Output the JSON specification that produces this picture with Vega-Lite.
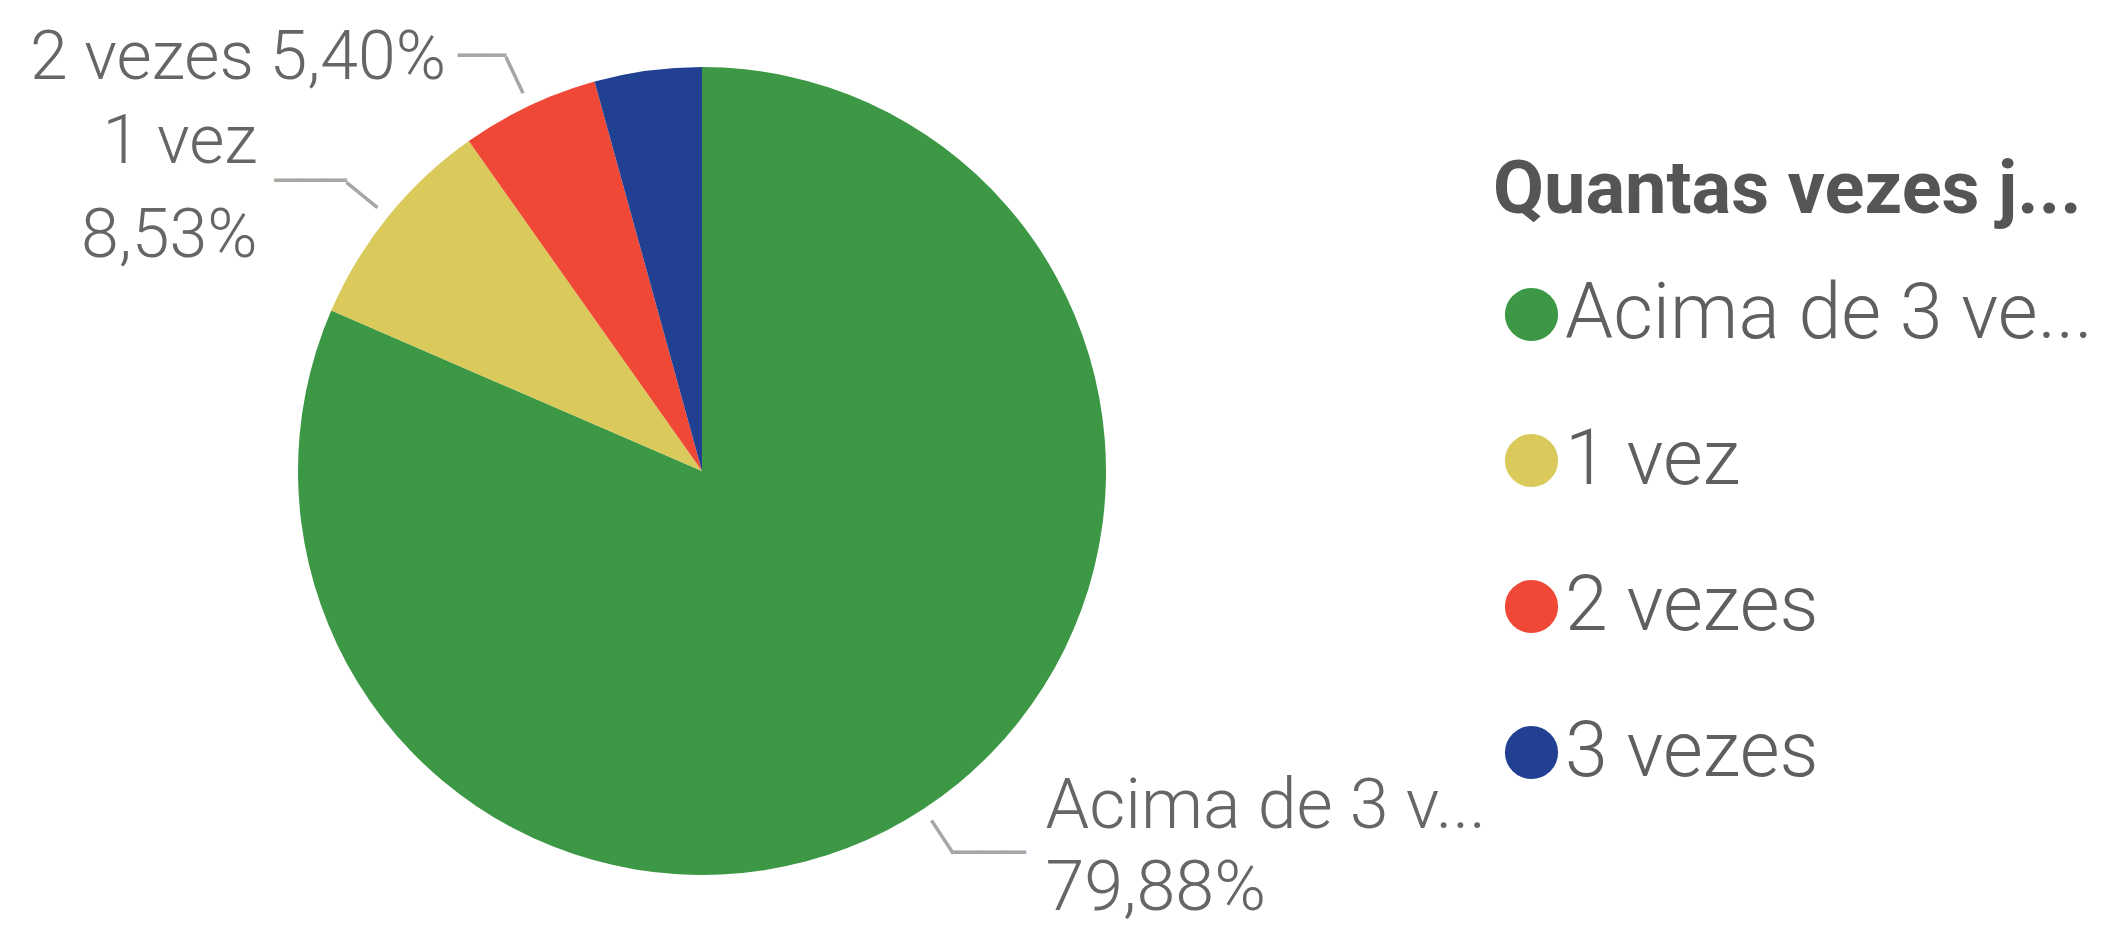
{
  "$schema": "https://vega.github.io/schema/vega-lite/v6.json",
  "width": 1404,
  "height": 918,
  "autosize": {"type": "none"},
  "padding": {"left": 0, "top": 12, "right": 720, "bottom": 0},
  "background": "white",
  "config": {
    "view": {"stroke": null},
    "locale": {"number": {"decimal": ",", "thousands": ".", "grouping": [3], "currency": ["R$", ""]}}
  },
  "data": {
    "values": [
      {"categoria": "Acima de 3 vezes", "valor": 0.7988},
      {"categoria": "1 vez", "valor": 0.0853},
      {"categoria": "2 vezes", "valor": 0.0540},
      {"categoria": "3 vezes", "valor": 0.0420}
    ]
  },
  "transform": [
    {"stack": "valor", "groupby": [], "sort": [{"field": "valor", "order": "descending"}], "offset": "normalize", "as": ["a0", "a1"]},
    {"fold": ["a0", "a1"], "as": ["borda", "angulo"]},
    {"joinaggregate": [{"op": "mean", "field": "angulo", "as": "meio"}], "groupby": ["categoria"]},
    {"filter": "datum.borda == 'a0'"}
  ],
  "layer": [
    {
      "mark": {"type": "arc", "radius": 404},
      "encoding": {
        "theta": {"field": "a0", "type": "quantitative", "scale": {"domain": [0, 1]}},
        "theta2": {"field": "a1"},
        "color": {
          "field": "categoria",
          "type": "nominal",
          "scale": {
            "domain": ["Acima de 3 vezes", "1 vez", "2 vezes", "3 vezes"],
            "range": ["#3c9845", "#d9ca5b", "#ef4836", "#214091"]
          },
          "legend": {
            "orient": "none",
            "legendX": 1493,
            "legendY": 143,
            "padding": 0,
            "title": "Quantas vezes j...",
            "titleFont": "Roboto",
            "titleFontWeight": "bold",
            "titleFontSize": 74,
            "titleColor": "#555555",
            "titleLimit": 2000,
            "titlePadding": 47,
            "labelFont": "Roboto",
            "labelFontWeight": 300,
            "labelFontSize": 77,
            "labelColor": "#5f5f5f",
            "labelLimit": 2000,
            "labelOffset": -5,
            "labelExpr": "datum.label == 'Acima de 3 vezes' ? 'Acima de 3 ve...' : datum.label",
            "symbolType": "circle",
            "symbolSize": 2827,
            "symbolStrokeWidth": 0,
            "symbolOpacity": 1,
            "rowPadding": 68
          }
        }
      }
    },
    {
      "transform": [{"filter": "datum.categoria != '3 vezes'"}],
      "mark": {"type": "arc", "radius": 458, "radius2": 418, "filled": false, "stroke": "#a6a6a6", "strokeWidth": 3.5},
      "encoding": {
        "theta": {"field": "meio", "type": "quantitative", "scale": {"domain": [0, 1]}},
        "theta2": {"field": "meio"}
      }
    },
    {
      "transform": [{"filter": "datum.categoria == 'Acima de 3 vezes'"}],
      "mark": {"type": "text", "radius": 458, "align": "left", "baseline": "middle", "font": "DejaVu Sans Mono", "fontSize": 40, "color": "#a6a6a6", "text": "───"},
      "encoding": {"theta": {"field": "meio", "type": "quantitative", "scale": {"domain": [0, 1]}}}
    },
    {
      "transform": [{"filter": "datum.categoria == '1 vez'"}],
      "mark": {"type": "text", "radius": 458, "align": "right", "baseline": "middle", "font": "DejaVu Sans Mono", "fontSize": 40, "color": "#a6a6a6", "text": "───"},
      "encoding": {"theta": {"field": "meio", "type": "quantitative", "scale": {"domain": [0, 1]}}}
    },
    {
      "transform": [{"filter": "datum.categoria == '2 vezes'"}],
      "mark": {"type": "text", "radius": 458, "align": "right", "baseline": "middle", "font": "DejaVu Sans Mono", "fontSize": 40, "color": "#a6a6a6", "text": "──"},
      "encoding": {"theta": {"field": "meio", "type": "quantitative", "scale": {"domain": [0, 1]}}}
    },
    {
      "transform": [{"filter": "datum.categoria == 'Acima de 3 vezes'"}],
      "mark": {"type": "text", "radius": 458, "align": "left", "baseline": "alphabetic", "dx": 92, "dy": -26, "font": "Roboto", "fontWeight": 300, "fontSize": 70, "color": "#666666", "limit": 472, "ellipsis": "..."},
      "encoding": {
        "theta": {"field": "meio", "type": "quantitative", "scale": {"domain": [0, 1]}},
        "text": {"field": "categoria", "type": "nominal"}
      }
    },
    {
      "transform": [{"filter": "datum.categoria == 'Acima de 3 vezes'"}],
      "mark": {"type": "text", "radius": 458, "align": "left", "baseline": "alphabetic", "dx": 92, "dy": 56, "font": "Roboto", "fontWeight": 300, "fontSize": 70, "color": "#666666"},
      "encoding": {
        "theta": {"field": "meio", "type": "quantitative", "scale": {"domain": [0, 1]}},
        "text": {"field": "valor", "type": "quantitative", "format": ".2%"}
      }
    },
    {
      "transform": [{"filter": "datum.categoria == '1 vez'"}],
      "mark": {"type": "text", "radius": 458, "align": "right", "baseline": "alphabetic", "dx": -89, "dy": -19, "font": "Roboto", "fontWeight": 300, "fontSize": 68, "color": "#666666"},
      "encoding": {
        "theta": {"field": "meio", "type": "quantitative", "scale": {"domain": [0, 1]}},
        "text": {"field": "categoria", "type": "nominal"}
      }
    },
    {
      "transform": [{"filter": "datum.categoria == '1 vez'"}],
      "mark": {"type": "text", "radius": 458, "align": "right", "baseline": "alphabetic", "dx": -89, "dy": 75, "font": "Roboto", "fontWeight": 300, "fontSize": 68, "color": "#666666"},
      "encoding": {
        "theta": {"field": "meio", "type": "quantitative", "scale": {"domain": [0, 1]}},
        "text": {"field": "valor", "type": "quantitative", "format": ".2%"}
      }
    },
    {
      "transform": [{"filter": "datum.categoria == '2 vezes'"}],
      "mark": {"type": "text", "radius": 458, "align": "right", "baseline": "alphabetic", "dx": -252, "dy": 22, "font": "Roboto", "fontWeight": 300, "fontSize": 68, "color": "#666666"},
      "encoding": {
        "theta": {"field": "meio", "type": "quantitative", "scale": {"domain": [0, 1]}},
        "text": {"field": "categoria", "type": "nominal"}
      }
    },
    {
      "transform": [{"filter": "datum.categoria == '2 vezes'"}],
      "mark": {"type": "text", "radius": 458, "align": "right", "baseline": "alphabetic", "dx": -60, "dy": 22, "font": "Roboto", "fontWeight": 300, "fontSize": 68, "color": "#666666"},
      "encoding": {
        "theta": {"field": "meio", "type": "quantitative", "scale": {"domain": [0, 1]}},
        "text": {"field": "valor", "type": "quantitative", "format": ".2%"}
      }
    }
  ]
}
